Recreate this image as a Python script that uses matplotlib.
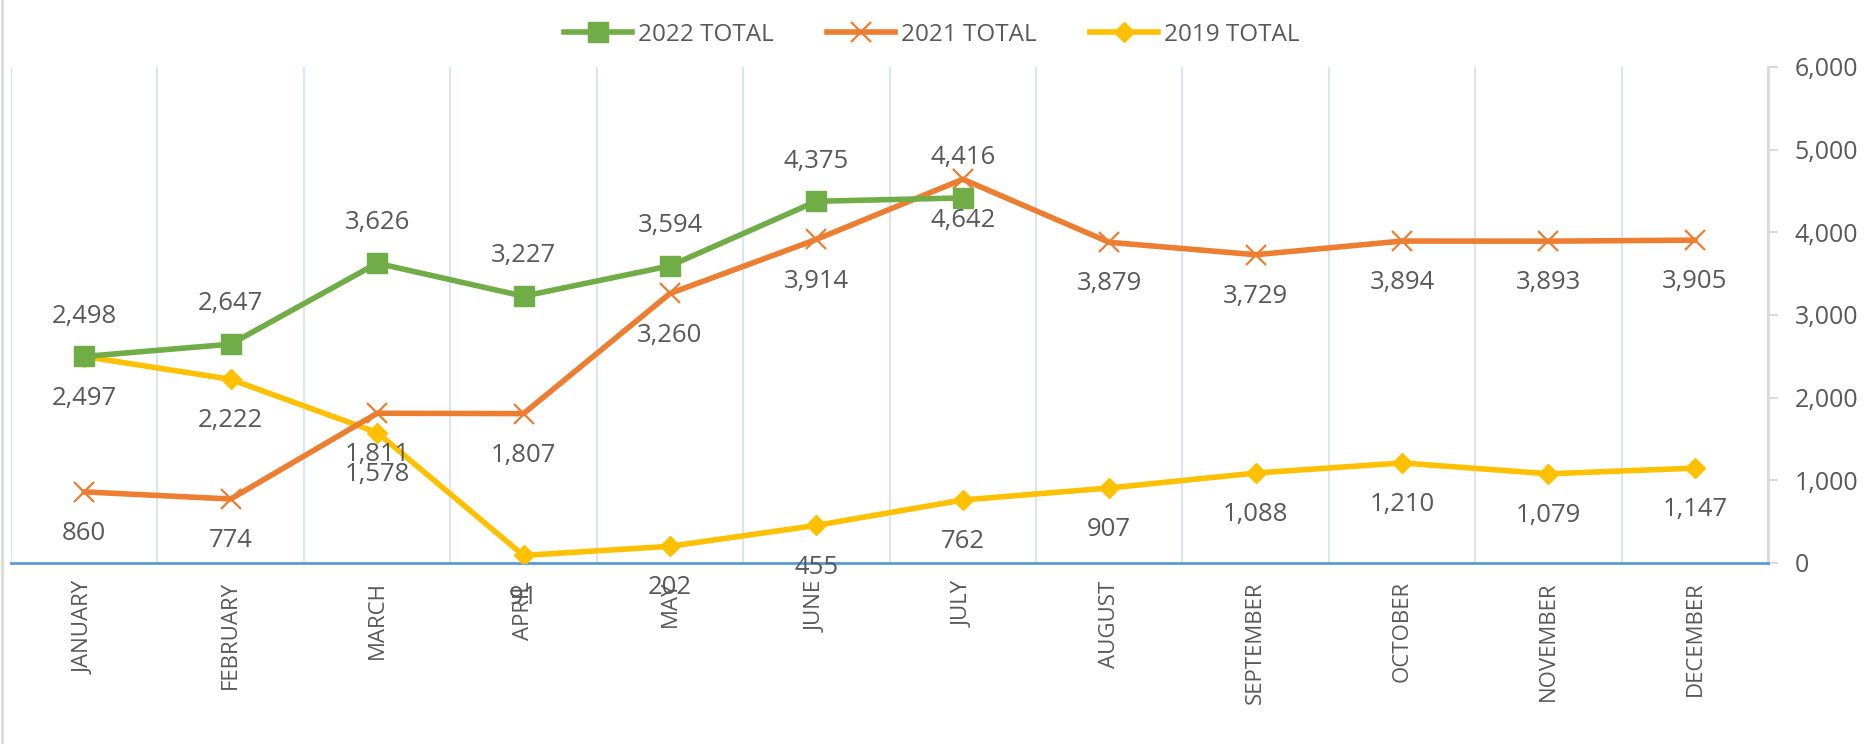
import numpy as np
import matplotlib
matplotlib.use("Agg")
import matplotlib.pyplot as plt
from matplotlib.ticker import FuncFormatter
from matplotlib.lines import Line2D

plt.rcParams['font.family'] = ['Open Sans', 'DejaVu Sans']

# Data
months = ['JANUARY', 'FEBRUARY', 'MARCH', 'APRIL', 'MAY', 'JUNE', 'JULY',
          'AUGUST', 'SEPTEMBER', 'OCTOBER', 'NOVEMBER', 'DECEMBER']
total_2022 = [2498, 2647, 3626, 3227, 3594, 4375, 4416]
total_2021 = [860, 774, 1811, 1807, 3260, 3914, 4642, 3879, 3729, 3894, 3893, 3905]
total_2019 = [2497, 2222, 1578, 91, 202, 455, 762, 907, 1088, 1210, 1079, 1147]

green = '#70AD47'
orange = '#ED7D31'
yellow = '#FFC000'
text_col = '#595959'

fig = plt.figure(figsize=(18.75, 7.44), dpi=100)
ax = fig.add_axes([0.0059, 0.2433, 0.9371, 0.6667])

x = np.arange(len(months))

ax.plot(x[:len(total_2022)], total_2022, color=green, lw=4, marker='s',
        ms=14, mec=green, mfc=green, label='2022 TOTAL', zorder=5)
ax.plot(x, total_2021, color=orange, lw=4, marker='x', ms=15, mew=1.6,
        mec=orange, label='2021 TOTAL', zorder=4)
ax.plot(x, total_2019, color=yellow, lw=4, marker='D', ms=10,
        mec=yellow, mfc=yellow, label='2019 TOTAL', zorder=3)

# data labels: 2022 above, others below
lbl = dict(textcoords='offset points', ha='center', va='center',
           fontsize=18.5, color=text_col, zorder=10)
for xi, v in zip(x, total_2022):
    ax.annotate(f'{v:,}', (xi, v), xytext=(0, 29), **lbl)
for xi, v in zip(x, total_2021):
    ax.annotate(f'{v:,}', (xi, v), xytext=(0, -30), **lbl)
for xi, v in zip(x, total_2019):
    ax.annotate(f'{v:,}', (xi, v), xytext=(0, -30), **lbl)

ax.set_xlim(-0.5, len(months) - 0.5)
ax.set_ylim(0, 6000)
ax.set_xticks(x)
ax.set_xticklabels(months, rotation=90, fontsize=16, color=text_col, va='top')
ax.tick_params(axis='x', length=0, pad=13)

ax.yaxis.tick_right()
ax.set_yticks(range(0, 6001, 1000))
ax.yaxis.set_major_formatter(FuncFormatter(lambda v, p: f'{int(v):,}'))
ax.tick_params(axis='y', direction='out', length=7, width=1.5, color='#D9D9D9',
               labelsize=18, labelcolor=text_col, pad=12)

# vertical gridlines between categories
for b in np.arange(-0.5, len(months) - 0.4, 1.0):
    ax.axvline(b, color='#DAE5F3', lw=1.5, zorder=0)

for s in ['top', 'left']:
    ax.spines[s].set_visible(False)
ax.spines['right'].set_color('#D9D9D9')
ax.spines['right'].set_linewidth(2)
ax.spines['bottom'].set_color('#5B9BD5')
ax.spines['bottom'].set_linewidth(2)

leg = fig.legend(loc='center', bbox_to_anchor=(0.497, 0.953), ncol=3,
                 frameon=False, fontsize=17.5, handlelength=2.8,
                 handletextpad=0.25, columnspacing=2.2)
for t in leg.get_texts():
    t.set_color(text_col)

# chart border on the left edge
fig.add_artist(Line2D([0.0008, 0.0008], [0, 1], color='#D9D9D9', lw=2,
                      transform=fig.transFigure))

fig.savefig('out.png', dpi=100)
